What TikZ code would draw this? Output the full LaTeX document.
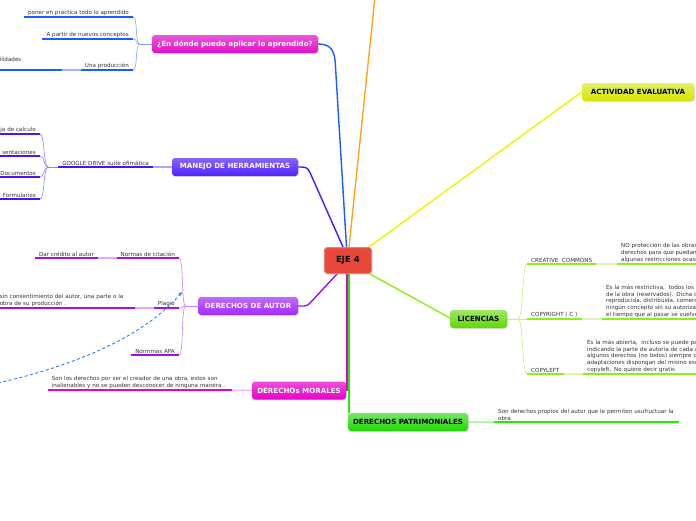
\documentclass[tikz,border=0pt]{standalone}
\usepackage{fontspec}
\setmainfont{DejaVu Sans}
\usetikzlibrary{calc,shadows,arrows.meta}
\definecolor{cBlue}{HTML}{1A5CFF}
\definecolor{cBlueL}{HTML}{9DB8FF}
\definecolor{cMagF}{HTML}{E010C8}
\definecolor{cInd}{HTML}{4A14F5}
\definecolor{cIndF}{HTML}{5222FF}
\definecolor{cIndL}{HTML}{B4A4FF}
\definecolor{cPur}{HTML}{A010F0}
\definecolor{cPurF}{HTML}{A52AFF}
\definecolor{cPurL}{HTML}{DCAEFF}
\definecolor{cMor}{HTML}{E800D0}
\definecolor{cMorF}{HTML}{E800CC}
\definecolor{cMorL}{HTML}{F7AAEE}
\definecolor{cGrn}{HTML}{22EE00}
\definecolor{cGrnF}{HTML}{1ED800}
\definecolor{cGrnL}{HTML}{B4F7A4}
\definecolor{cLic}{HTML}{8CEE1A}
\definecolor{cLicF}{HTML}{5ED800}
\definecolor{cLicL}{HTML}{D6F8B4}
\definecolor{cYel}{HTML}{F2F200}
\definecolor{cActF}{HTML}{D4E600}
\definecolor{cOra}{HTML}{FFA519}
\definecolor{cRed}{HTML}{E8483A}
\definecolor{cRedL}{HTML}{F27A6C}
\definecolor{cDash}{HTML}{2A80E0}
\definecolor{cTxt}{HTML}{333333}
\pgfdeclarelayer{bg}
\pgfsetlayers{bg,main}
\tikzset{
  mainnode/.style={rounded corners=3pt, minimum height=18pt, inner sep=0pt,
    font=\fontsize{7.1}{8}\selectfont\bfseries,
    drop shadow={shadow xshift=0.8pt, shadow yshift=-0.8pt, opacity=0.25}},
  leaf/.style={inner xsep=4pt, inner ysep=1.5pt, font=\fontsize{5.6}{6.6}\selectfont,
    text=cTxt, anchor=south east},
  leafr/.style={leaf, anchor=south west},
  ul/.style={line width=2.2pt},
  lite/.style={line width=1.1pt},
  br/.style={line width=0.6pt},
  conn/.style={line width=1.4pt},
}
\begin{document}
\begin{tikzpicture}[x=1pt,y=-1pt]
\useasboundingbox (0,0) rectangle (696,520);
% central
\node[mainnode, fill=cRed, draw=cRedL, line width=1pt, minimum width=47pt, minimum height=26pt,
  font=\fontsize{8.5}{9}\selectfont\bfseries] (eje) at (348,260.5) {EJE 4};
% main topics
\node[mainnode, top color=cMagF!70!white, bottom color=cMagF, text=white, minimum width=166pt] (apl) at (235,44) {¿En dónde puedo aplicar lo aprendido?};
\node[mainnode, top color=cIndF!70!white, bottom color=cIndF, text=white, minimum width=126pt] (man) at (235,167) {MANEJO DE HERRAMIENTAS};
\node[mainnode, top color=cPurF!70!white, bottom color=cPurF, text=white, minimum width=100pt] (aut) at (248,306) {DERECHOS DE AUTOR};
\node[mainnode, top color=cMorF!70!white, bottom color=cMorF, text=white, minimum width=94pt] (mor) at (299,390.5) {DERECHOs MORALES};
\node[mainnode, top color=cGrnF!60!white, bottom color=cGrnF, text=black, minimum width=120pt] (pat) at (408,422) {DERECHOS PATRIMONIALES};
\node[mainnode, top color=cLicF!60!white, bottom color=cLicF, text=black, minimum width=57pt] (lic) at (478.5,319) {LICENCIAS};
\node[mainnode, top color=cActF!60!white, bottom color=cActF, text=black, minimum width=112pt] (act) at (638,92) {ACTIVIDAD EVALUATIVA};
\coordinate (otop) at (375,-3);
% leaves: aplicar
\node[leaf] (a1) at (133,17) {poner en práctica todo lo aprendido};
\node[leaf] (a2) at (133,39) {A partir de nuevos conceptos};
\node[leaf] (a3) at (133,70) {Una producción};
\node[leaf, text width=58pt, align=left] (a4) at (62,70) {ilidades\\\mbox{}};
% leaves: manejo
\node[leaf] (g) at (153,167) {GOOGLE DRIVE suite ofimática};
\node[leaf, text width=40pt, align=right] (m1) at (40,134) {ja de calculo};
\node[leaf, text width=40pt, align=right] (m2) at (40,156) {sentaciones};
\node[leaf, text width=40pt, align=right] (m3) at (40,177) {Documentos};
\node[leaf, text width=40pt, align=right] (m4) at (40,199) {Formularios};
% leaves: autor
\node[leaf] (d1) at (179,258) {Normas de citación};
\node[leaf] (d1b) at (98,258) {Dar crédito al autor};
\node[leaf] (d2) at (179,308) {Plagio};
\node[leaf, text width=131pt, align=left] (d2b) at (135,308) {sin consentimiento del autor, una parte o la\\obra de su producción .};
\node[leaf] (d3) at (179,355) {Normmas APA};
% leaves: morales
\node[leaf, text width=176pt, align=left] (mo1) at (232,390) {Son los derechos por ser el creador de una obra, estos son\\inalienables y no se pueden desconocer de ninguna manera .};
% leaves: patrimoniales
\node[leafr, text width=177pt, align=left] (pa1) at (494,422) {Son derechos propios del autor que le permiten usufructuar la\\obra};
% leaves: licencias
\node[leafr] (l1) at (527,264) {CREATIVE\ \ COMMONS};
\node[leafr, text width=100pt, align=left] (l1b) at (617,264) {NO protección de las obras,\\derechos para que puedan\\algunas restricciones ocasi};
\node[leafr] (l2) at (527,319) {COPYRIGHT ( C )};
\node[leafr, text width=100pt, align=left] (l2b) at (602,319) {Es la más restrictiva,\ \ todos los\\de la obra (reservados). Dicha o\\reproducida, distribuida, comerc\\ningún concepto sin su autoriza\\el tiempo que al pasar se vuelve};
\node[leafr] (l3) at (527,374) {COPYLEFT};
\node[leafr, text width=120pt, align=left] (l3b) at (583,374) {Es la más abierta,\ \ incluso se puede pa\\indicando la parte de autoría de cada a\\algunos derechos (no todos) siempre q\\adaptaciones dispongan del mismo esq\\copyleft. No quiere decir gratis};
\coordinate (dstart) at (-2,383);
\coordinate (dend) at (182,292);
\begin{pgfonlayer}{bg}
% main connectors
\draw[conn,cOra] ([xshift=1pt]eje.north) -- (otop);
\draw[conn,cBlue] (apl.east) .. controls +(12,0) and +(-1,-12) .. ($(apl.east)+(17,18)$) -- ([xshift=-1.5pt]eje.north);
\draw[conn,cInd] (man.east) .. controls +(8,0) and +(-3,-6) .. ($(man.east)+(12,6)$) -- ([xshift=-5pt]eje.north);
\draw[conn,cPur, rounded corners=3pt] (aut.east) -- +(9,0) -- ([xshift=-11pt]eje.south);
\draw[conn,cMor] ([xshift=-1pt]eje.south) |- (mor.east);
\draw[conn,cGrn] ([xshift=1pt]eje.south) -- ([xshift=1pt]eje.south |- pat.north);
\draw[conn,cYel, rounded corners=4pt] ([xshift=-3pt]eje.north east) -- ($(act.west)+(-7,5)$) -- (act.west);
\draw[conn,cLic] ([xshift=-2pt]eje.south east) -- ([xshift=2pt]lic.west);
% aplicar branch
\coordinate (ja) at ($(apl.west)+(-12,0)$);
\draw[br,cBlue!60!white] (apl.west) -- (ja);
\foreach \n in {a1,a2,a3} \draw[br,cBlue!55!white] (ja) .. controls +(-5,0) and +(5,0) .. (\n.south east);
\foreach \n in {a1,a2,a3,a4} \draw[ul,cBlue] (\n.south west) -- (\n.south east);
\draw[lite,cBlueL] (a4.south east) -- (a3.south west);
% manejo branch
\draw[lite,cIndL] (g.south east) -- (man.west);
\draw[ul,cInd] (g.south west) -- (g.south east);
\coordinate (jm) at ($(g.south west)+(-10,0)$);
\draw[br,cInd!55!white] (g.south west) -- (jm);
\foreach \n in {m1,m2,m3,m4} {
  \draw[br,cInd!55!white] (jm) .. controls +(-5,0) and +(5,0) .. (\n.south east);
  \draw[ul,cInd] (\n.south west) -- (\n.south east);
}
% autor branch
\coordinate (jd) at ($(aut.west)+(-12,0)$);
\draw[br,cPur!55!white] (aut.west) -- (jd);
\foreach \n in {d1,d2,d3} \draw[br,cPur!55!white] (jd) .. controls +(-5,0) and +(5,0) .. (\n.south east);
\foreach \n in {d1,d1b,d2,d2b,d3} \draw[ul,cPur] (\n.south west) -- (\n.south east);
\draw[lite,cPurL] (d1b.south east) -- (d1.south west);
\draw[lite,cPurL] (d2b.south east) -- (d2.south west);
% morales branch
\draw[lite,cMorL] (mo1.south east) -- (mor.west);
\draw[ul,cMor] (mo1.south west) -- (mo1.south east);
% patrimoniales branch
\draw[lite,cGrnL] (pat.east) -- (pa1.south west);
\draw[ul,cGrn] (pa1.south west) -- (pa1.south east);
% licencias branch
\coordinate (jl) at ($(lic.east)+(11,0)$);
\draw[br,cLic!60!white] (lic.east) -- (jl);
\foreach \n in {l1,l2,l3} \draw[br,cLic!60!white] (jl) .. controls +(5,0) and +(-5,0) .. (\n.south west);
\foreach \n in {l1,l1b,l2,l2b,l3,l3b} \draw[ul,cLic] (\n.south west) -- (\n.south east);
\draw[lite,cLicL] (l1.south east) -- (l1b.south west);
\draw[lite,cLicL] (l2.south east) -- (l2b.south west);
\draw[lite,cLicL] (l3.south east) -- (l3b.south west);
\end{pgfonlayer}
% dashed arrow
\draw[cDash, line width=0.9pt, dash pattern=on 3pt off 2.5pt, -{Stealth[length=4pt,width=3.5pt]}] (dstart) .. controls (90,362) and (150,330) .. (dend);
\end{tikzpicture}
\end{document}
